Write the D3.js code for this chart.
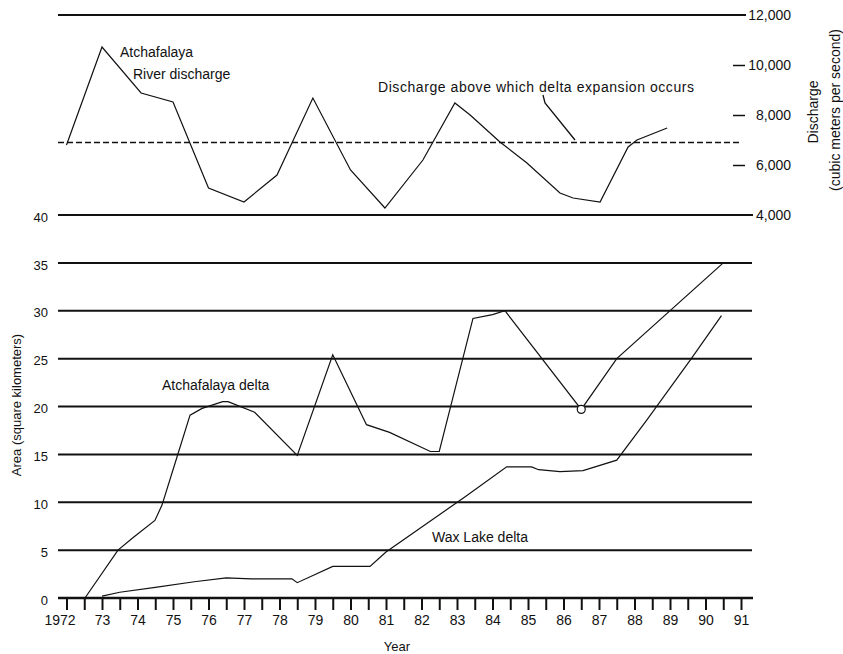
<!DOCTYPE html>
<html>
<head>
<meta charset="utf-8">
<script src="https://cdn.jsdelivr.net/npm/d3@7"></script>
<style>
  html, body { margin: 0; padding: 0; background: #fff; }
  svg { display: block; font-family: "Liberation Sans", Arial, sans-serif; }
  text { fill: #111; }
</style>
</head>
<body>
<svg id="chart" width="843" height="654"></svg>
<script>
// ---- data ----
const dischargeYears  = [1972, 1973, 1974.1, 1975, 1976, 1977, 1977.93, 1978.94, 1980, 1980.97, 1982.04, 1982.94, 1983.37, 1984.21, 1984.97, 1985.9, 1986.27, 1987.03, 1987.82, 1988.07, 1988.92];
const dischargeValues = [6800, 10720, 8880, 8520, 5080, 4520, 5600, 8680, 5800, 4280, 6200, 8480, 8000, 6920, 6080, 4880, 4680, 4520, 6720, 7000, 7480];
const expansionThreshold = 6900;

const atchYears  = [1972.52, 1973.45, 1973.87, 1974.49, 1974.69, 1975.06, 1975.48, 1975.82, 1976.4, 1976.55, 1977.3, 1978.5, 1979.5, 1980.45, 1981.1, 1982.25, 1982.5, 1983.45, 1984.0, 1984.35, 1986.5, 1987.5, 1990.5];
const atchValues = [0, 5.0, 6.3, 8.1, 9.7, 14.1, 19.1, 19.8, 20.5, 20.5, 19.4, 14.9, 25.4, 18.1, 17.3, 15.3, 15.3, 29.2, 29.6, 30.0, 19.7, 25.0, 35.0];
const atchMarkerYear = 1986.5, atchMarkerValue = 19.7;

const waxYears  = [1973.0, 1973.5, 1974.5, 1975.6, 1976.5, 1977.2, 1978.35, 1978.5, 1979.5, 1980.55, 1981.0, 1983.2, 1984.4, 1985.1, 1985.3, 1985.9, 1986.55, 1987.5, 1988.35, 1989.6, 1990.45];
const waxValues = [0.2, 0.6, 1.1, 1.7, 2.1, 2.0, 2.0, 1.6, 3.3, 3.3, 4.8, 10.5, 13.7, 13.7, 13.4, 13.2, 13.3, 14.4, 18.6, 25.0, 29.5];

const areaTicks = [0, 5, 10, 15, 20, 25, 30, 35, 40];
const dischargeTicks = [4000, 6000, 8000, 10000, 12000];
const dischargeTickLabels = ["4,000", "6,000", "8,000", "10,000", "12,000"];
const yearTicks = d3.range(1972, 1991.001, 0.5);
const yearLabels = {1972:"1972",1973:"73",1974:"74",1975:"75",1976:"76",1977:"77",1978:"78",1979:"79",1980:"80",1981:"81",1982:"82",1983:"83",1984:"84",1985:"85",1986:"86",1987:"87",1988:"88",1989:"89",1990:"90",1991:"91"};

// ---- scales ----
const svg = d3.select("#chart");
const x = d3.scaleLinear().domain([1972, 1991]).range([66.5, 741]);
const yArea = d3.scaleLinear().domain([0, 40]).range([598, 215]);
const yDis = d3.scaleLinear().domain([4000, 12000]).range([215, 15]);
const gridX0 = 58, gridX1 = 752;
const ink = "#111";

// ---- gridlines (area) ----
svg.append("g").selectAll("line").data(areaTicks).join("line")
  .attr("x1", gridX0).attr("x2", d => d === 40 ? 753 : gridX1)
  .attr("y1", d => yArea(d)).attr("y2", d => yArea(d))
  .attr("stroke", ink).attr("stroke-width", 2);
// top line (12,000)
svg.append("line").attr("x1", gridX0).attr("x2", 746)
  .attr("y1", yDis(12000)).attr("y2", yDis(12000))
  .attr("stroke", ink).attr("stroke-width", 2);

// ---- left axis labels ----
const leftAxis = d3.axisLeft(yArea).tickValues(areaTicks).tickSize(0).tickPadding(0);
const gl = svg.append("g").attr("transform", "translate(48,2)").call(leftAxis);
gl.select(".domain").remove();
gl.selectAll("text").attr("font-size", 13).attr("fill", ink).attr("font-family", "Liberation Sans, Arial, sans-serif");

// ---- right axis ----
const rightAxis = d3.axisRight(yDis).tickValues(dischargeTicks).tickSize(-12).tickPadding(0)
  .tickFormat((d, i) => dischargeTickLabels[i]);
const gr = svg.append("g").attr("transform", "translate(745,0)").call(rightAxis);
gr.select(".domain").remove();
gr.selectAll(".tick line").attr("stroke", ink).attr("stroke-width", 1.5)
  .attr("x1", 0).attr("x2", d => (d === 4000 || d === 12000) ? 0 : -12);
gr.selectAll("text").attr("font-size", 14).attr("fill", ink)
  .attr("text-anchor", "end").attr("x", 46).attr("dy", "0.35em")
  .attr("font-family", "Liberation Sans, Arial, sans-serif");

// ---- bottom axis ----
const bottomAxis = d3.axisBottom(x).tickValues(yearTicks).tickSize(12).tickPadding(5)
  .tickFormat(d => yearLabels[d] || "");
const gb = svg.append("g").attr("transform", "translate(0,598)").call(bottomAxis);
gb.select(".domain").remove();
gb.selectAll(".tick line").attr("stroke", ink).attr("stroke-width", 2);
gb.selectAll("text").attr("font-size", 14).attr("fill", ink)
  .attr("font-family", "Liberation Sans, Arial, sans-serif");
gb.selectAll(".tick").filter(d => d === 1972).select("text").attr("dx", -7);
svg.append("line").attr("x1", gridX0).attr("x2", 753).attr("y1", 598).attr("y2", 598)
  .attr("stroke", ink).attr("stroke-width", 2.5);

// ---- axis titles ----
svg.append("text").attr("transform", "translate(21,405) rotate(-90)")
  .attr("text-anchor", "middle").attr("font-size", 13).text("Area (square kilometers)");
svg.append("text").attr("transform", "translate(818,112) rotate(-90)")
  .attr("text-anchor", "middle").attr("font-size", 14).text("Discharge");
svg.append("text").attr("transform", "translate(840,110) rotate(-90)")
  .attr("text-anchor", "middle").attr("font-size", 14).text("(cubic meters per second)");
svg.append("text").attr("x", 397).attr("y", 651).attr("text-anchor", "middle")
  .attr("font-size", 13).text("Year");

// ---- threshold dashed line ----
svg.append("line").attr("x1", gridX0).attr("x2", 740)
  .attr("y1", yDis(expansionThreshold)).attr("y2", yDis(expansionThreshold))
  .attr("stroke", ink).attr("stroke-width", 1.4).attr("stroke-dasharray", "6,3");

// ---- lines ----
const lineFn = (xs, ys, ys_scale) => d3.line().x((d, i) => x(xs[i])).y((d, i) => ys_scale(ys[i]));
svg.append("path").datum(dischargeValues)
  .attr("d", lineFn(dischargeYears, dischargeValues, yDis))
  .attr("fill", "none").attr("stroke", ink).attr("stroke-width", 1.2);
svg.append("path").datum(atchValues)
  .attr("d", lineFn(atchYears, atchValues, yArea))
  .attr("fill", "none").attr("stroke", ink).attr("stroke-width", 1.2);
svg.append("path").datum(waxValues)
  .attr("d", lineFn(waxYears, waxValues, yArea))
  .attr("fill", "none").attr("stroke", ink).attr("stroke-width", 1.2);
svg.append("circle").attr("cx", x(atchMarkerYear)).attr("cy", yArea(atchMarkerValue)).attr("r", 4)
  .attr("fill", "#fff").attr("stroke", ink).attr("stroke-width", 1.2);

// ---- annotations ----
svg.append("text").attr("x", 120).attr("y", 57).attr("font-size", 14).text("Atchafalaya");
svg.append("text").attr("x", 133).attr("y", 79).attr("font-size", 14).text("River discharge");
svg.append("text").attr("x", 378).attr("y", 92).attr("font-size", 14)
  .attr("textLength", 316).attr("lengthAdjust", "spacing")
  .text("Discharge above which delta expansion occurs");
svg.append("path").attr("d", "M543,95 L545,103 L575,140")
  .attr("fill", "none").attr("stroke", ink).attr("stroke-width", 1.3);
svg.append("text").attr("x", 162).attr("y", 390).attr("font-size", 14).text("Atchafalaya delta");
svg.append("text").attr("x", 432).attr("y", 542).attr("font-size", 14).text("Wax Lake delta");
</script>
</body>
</html>
